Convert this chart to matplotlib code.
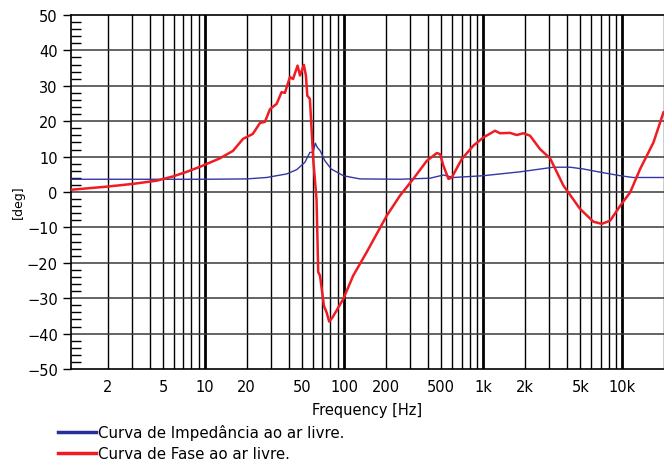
import matplotlib
matplotlib.use("Agg")
import matplotlib.pyplot as plt
from matplotlib.ticker import FixedLocator, MultipleLocator, NullFormatter

plt.rcParams["font.family"] = ["DejaVu Sans"]

# phase curve [deg]
phase_freq = [1.1, 1.96, 3.05, 4.5, 5.9, 7.4, 9.2, 12.8, 15.9, 18.8, 22.1, 24.9, 27, 29.4,
              32.8, 35.6, 37.6, 40.9, 43, 46.4, 48.3, 51.5, 53.3, 54.5, 56.9, 60.1, 63.5,
              65.3, 67.3, 71.8, 75, 78.3, 82.8, 88.4, 98.9, 116.6, 145.6, 203, 253, 315,
              394, 465, 491, 519, 564, 596, 703, 852, 1004, 1219, 1325, 1563, 1746, 1950,
              2178, 2570, 3035, 3785, 4990, 6220, 7150, 8200, 9680, 11420, 13470, 16800, 19830]
phase_deg = [0.65, 1.5, 2.3, 3.2, 4.4, 5.7, 7.1, 9.5, 11.6, 15, 16.4, 19.5, 19.8, 23.4,
             24.9, 28.2, 28, 32.5, 31.9, 35.7, 32.9, 35.9, 32.8, 27.2, 26.3, 9.3, -2,
             -22.6, -23.7, -32.2, -34, -36.6, -35.4, -33.5, -30.2, -23.6, -17, -6.7, -1, 3.7,
             8.8, 11, 10.7, 7.4, 3.7, 4.1, 9.3, 13.1, 15.4, 17.3, 16.6, 16.7, 16.1, 16.6,
             15.9, 12.1, 9.5, 1.8, -4.8, -8.4, -9, -8.1, -3.9, -0.1, 6.5, 14, 22.5]

# impedance curve (same scale)
imp_freq = [1.1, 10, 20, 27.8, 38.7, 45.7, 52.4, 56.9, 60, 62.2, 64.3, 67.3, 73, 81, 99,
            130, 253, 416, 519, 612, 1004, 1846, 3206, 4225, 5270, 6950, 9680, 12000, 19800]
imp_val = [3.6, 3.6, 3.7, 4.1, 5.1, 6.3, 8.4, 11.2, 11.2, 13.8, 12.6, 11.7, 8.8, 6.5, 4.6,
           3.7, 3.6, 3.9, 4.8, 4.1, 4.6, 5.7, 7.0, 7.0, 6.5, 5.6, 4.6, 4.1, 4.1]

xtick_vals = [2, 5, 10, 20, 50, 100, 200, 500, 1000, 2000, 5000, 10000]
xtick_labels = ["2", "5", "10", "20", "50", "100", "200", "500", "1k", "2k", "5k", "10k"]

fig = plt.figure(figsize=(6.64, 4.64), dpi=100)
ax = fig.add_axes([71 / 664, 94 / 464, 593 / 664, 354 / 464])

ax.set_xscale("log")
ax.set_xlim(1.09, 20000)
ax.set_ylim(-50, 50)

# grid: every integer multiple, decades thicker
for dec in [1, 10, 100, 1000, 10000]:
    for m in range(1, 10):
        f = dec * m
        if f < 1.1 or f > 20000:
            continue
        ax.axvline(f, color="black", lw=2.0 if m == 1 else 1.0, zorder=1)
for v in range(-40, 50, 10):
    ax.axhline(v, color="#3a3a3a", lw=1.1, zorder=1)

ax.plot(imp_freq, imp_val, color="#3535a5", lw=1.0, zorder=3,
        label="Curva de Impedância ao ar livre.")
ax.plot(phase_freq, phase_deg, color="#f01c24", lw=1.8, zorder=4,
        label="Curva de Fase ao ar livre.")

ax.xaxis.set_major_locator(FixedLocator(xtick_vals))
ax.set_xticklabels(xtick_labels)
ax.xaxis.set_minor_formatter(NullFormatter())
ax.tick_params(axis="x", which="both", length=0, labelsize=10.5, pad=7)
ax.yaxis.set_major_locator(MultipleLocator(10))
ax.yaxis.set_minor_locator(MultipleLocator(2))
ax.tick_params(axis="y", which="major", length=6, width=1, direction="out", labelsize=10.5)
ax.tick_params(axis="y", which="minor", length=7, width=1, direction="in")

ax.spines["right"].set_visible(False)
for side in ["left", "bottom", "top"]:
    ax.spines[side].set_linewidth(1.2)

ax.set_xlabel("Frequency [Hz]", fontsize=10.5, labelpad=6)
fig.text(18 / 664, 1 - 202 / 464, "[deg]", rotation=90, fontsize=9,
         ha="center", va="center")

handles, labels = ax.get_legend_handles_labels()
leg = fig.legend(handles, labels, loc="upper left", bbox_to_anchor=(58 / 664, 1 - 425 / 464),
                 frameon=False, handlelength=2.5, handletextpad=0.2, borderpad=0,
                 borderaxespad=0, labelspacing=0.4, fontsize=10.8)
leg.legend_handles[0].set_color("#27309a")
leg.legend_handles[0].set_linewidth(2.5)
leg.legend_handles[1].set_color("#ee1c25")
leg.legend_handles[1].set_linewidth(2.5)

fig.savefig("out.png", dpi=100)
plt.close(fig)
